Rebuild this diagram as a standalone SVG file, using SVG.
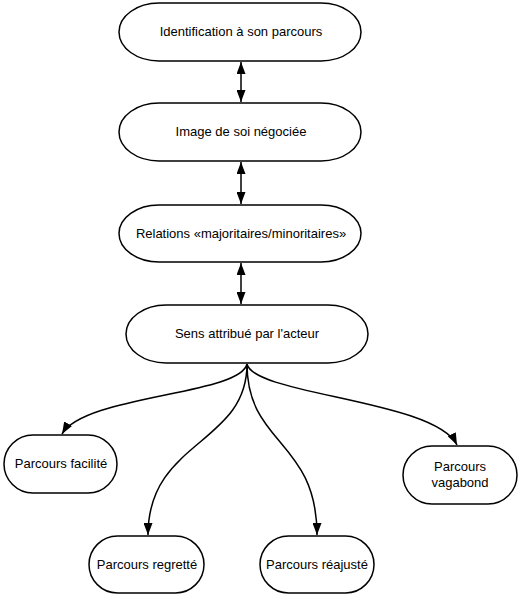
<svg xmlns="http://www.w3.org/2000/svg" width="529" height="600" viewBox="0 0 529 600">
<defs>
<marker id="ah" viewBox="0 0 12 9" refX="12" refY="4.5" markerWidth="12" markerHeight="9" markerUnits="userSpaceOnUse" orient="auto-start-reverse">
<path d="M0,0 L12,4.5 L0,9 Z" fill="#000"/>
</marker>
<style>
.n rect{fill:#fff;stroke:#000;stroke-width:1.5}
.n text{font-family:"Liberation Sans",Arial,sans-serif;font-size:13px;fill:#000;text-anchor:middle}
.c path{fill:none;stroke:#000;stroke-width:1.5}
</style>
</defs>
<rect width="529" height="600" fill="#fff"/>
<g class="c" id="connectors">
<path d="M241,62 L241,102" marker-start="url(#ah)" marker-end="url(#ah)"/>
<path d="M241,162 L241,204" marker-start="url(#ah)" marker-end="url(#ah)"/>
<path d="M241,263 L241,304" marker-start="url(#ah)" marker-end="url(#ah)"/>
<path d="M247,364 C240,395 85,395 62,434" marker-end="url(#ah)"/>
<path d="M247,364 C247,445 148,440 148,535" marker-end="url(#ah)"/>
<path d="M247,364 C247,445 317,440 317,535" marker-end="url(#ah)"/>
<path d="M247,364 C254,395 435,400 457,445" marker-end="url(#ah)"/>
</g>
<g class="n" id="n1"><rect x="119" y="3" width="242" height="58" rx="40" ry="29"/><text x="241" y="36">Identification à son parcours</text></g>
<g class="n" id="n2"><rect x="119" y="103" width="242" height="58" rx="40" ry="29"/><text x="241" y="136">Image de soi négociée</text></g>
<g class="n" id="n3"><rect x="119" y="205" width="242" height="57" rx="40" ry="28.5"/><text x="241" y="238">Relations «majoritaires/minoritaires»</text></g>
<g class="n" id="n4"><rect x="126" y="305" width="242" height="58" rx="40" ry="29"/><text x="247" y="338">Sens attribué par l'acteur</text></g>
<g class="n" id="n5"><rect x="4" y="435" width="113" height="58" rx="29"/><text x="61" y="468">Parcours facilité</text></g>
<g class="n" id="n6"><rect x="89" y="536" width="115" height="57" rx="28.5"/><text x="147" y="569">Parcours regretté</text></g>
<g class="n" id="n7"><rect x="260" y="536" width="114" height="57" rx="28.5"/><text x="317" y="569">Parcours réajusté</text></g>
<g class="n" id="n8"><rect x="403" y="446" width="114" height="58" rx="29"/><text x="460" y="471">Parcours</text><text x="460" y="487">vagabond</text></g>
</svg>
